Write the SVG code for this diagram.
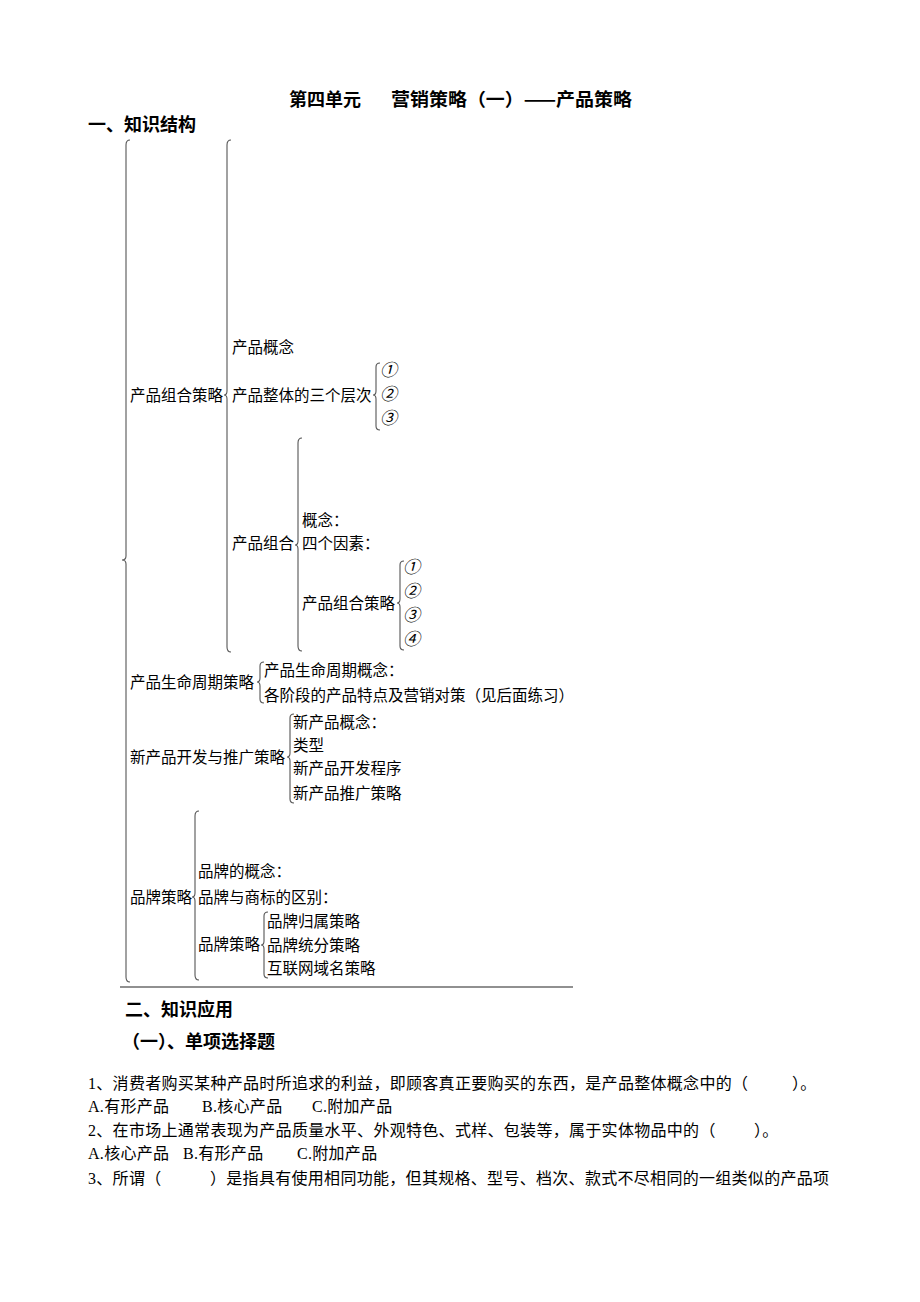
<svg xmlns="http://www.w3.org/2000/svg" width="920" height="1302" viewBox="0 0 920 1302">
<style>
.h{font-family:"Noto Sans CJK SC","Noto Sans",sans-serif;font-weight:bold;font-size:18px;fill:#000}
.t{font-family:"Noto Sans CJK SC","Noto Sans",sans-serif;font-size:15.5px;fill:#000}
.c{font-family:"Noto Sans CJK SC","Noto Sans",sans-serif;font-size:17px;font-style:italic;fill:#000}
.q{font-family:"Liberation Serif","Noto Sans CJK SC",serif;font-size:16px;letter-spacing:0.3px;fill:#000}
.br{fill:none;stroke:#555;stroke-width:1.1}
</style>
<rect width="920" height="1302" fill="#fff"/>
<g id="title">
<text class="h" x="289" y="106">第四单元</text>
<text class="h" x="391" y="106" textLength="241" lengthAdjust="spacingAndGlyphs">营销策略（一）——产品策略</text>
</g>
<g id="heading1"><text class="h" x="88" y="131">一、知识结构</text></g>
<g id="connectors">
<path class="br" d="M130,140 Q126,140 126,145 L126,556 Q126,560 122,560 Q126,560 126,564 L126,977 Q126,982 130,982"/>
<path class="br" d="M231,140 Q227,140 227,145 L227,391 Q227,395 224,395 Q227,395 227,399 L227,647 Q227,652 231,652"/>
<path class="br" d="M380,363 Q376,363 376,367 L376,391 Q376,395 373,395 Q376,395 376,399 L376,426 Q376,430 380,430"/>
<path class="br" d="M302,438 Q298,438 298,443 L298,541 Q298,545 295,545 Q298,545 298,549 L298,646 Q298,651 302,651"/>
<path class="br" d="M404,561 Q400,561 400,565 L400,599 Q400,603 397,603 Q400,603 400,607 L400,646 Q400,650 404,650"/>
<path class="br" d="M264,662 Q260,662 260,666 L260,678 Q260,682 257,682 Q260,682 260,686 L260,699 Q260,703 264,703"/>
<path class="br" d="M294,714 Q290,714 290,718 L290,753 Q290,757 287,757 Q290,757 290,761 L290,799 Q290,803 294,803"/>
<path class="br" d="M199,811 Q195,811 195,816 L195,893 Q195,897 192,897 Q195,897 195,901 L195,975 Q195,980 199,980"/>
<path class="br" d="M268,912 Q264,912 264,916 L264,941 Q264,945 261,945 Q264,945 264,949 L264,974 Q264,978 268,978"/>
<line x1="120" y1="987" x2="573" y2="987" stroke="#222" stroke-width="1.2"/>
</g>
<g id="n-product-mix-strategy"><text class="t" x="130" y="401">产品组合策略</text></g>
<g id="n-product-concept"><text class="t" x="232" y="353">产品概念</text></g>
<g id="n-three-levels"><text class="t" x="232" y="401">产品整体的三个层次</text></g>
<g id="n-levels">
<text class="c" x="380" y="376">①</text>
<text class="c" x="380" y="400">②</text>
<text class="c" x="380" y="424">③</text>
</g>
<g id="n-product-mix"><text class="t" x="232" y="549">产品组合</text></g>
<g id="n-mix-concept"><text class="t" x="302" y="526">概念：</text></g>
<g id="n-four-factors"><text class="t" x="302" y="549">四个因素：</text></g>
<g id="n-mix-strategy"><text class="t" x="302" y="609">产品组合策略</text></g>
<g id="n-mix-items">
<text class="c" x="403" y="573">①</text>
<text class="c" x="403" y="597">②</text>
<text class="c" x="403" y="621">③</text>
<text class="c" x="403" y="645">④</text>
</g>
<g id="n-plc-strategy"><text class="t" x="130" y="688">产品生命周期策略</text></g>
<g id="n-plc-concept"><text class="t" x="264" y="676">产品生命周期概念：</text></g>
<g id="n-plc-stages"><text class="t" x="264" y="701">各阶段的产品特点及营销对策（见后面练习）</text></g>
<g id="n-new-product"><text class="t" x="130" y="763">新产品开发与推广策略</text></g>
<g id="n-np-concept"><text class="t" x="293" y="728">新产品概念：</text></g>
<g id="n-np-type"><text class="t" x="293" y="751">类型</text></g>
<g id="n-np-process"><text class="t" x="293" y="774">新产品开发程序</text></g>
<g id="n-np-promo"><text class="t" x="293" y="799">新产品推广策略</text></g>
<g id="n-brand-strategy"><text class="t" x="130" y="903">品牌策略</text></g>
<g id="n-brand-concept"><text class="t" x="198" y="877">品牌的概念：</text></g>
<g id="n-brand-vs-tm"><text class="t" x="198" y="903">品牌与商标的区别：</text></g>
<g id="n-brand-strategy-inner"><text class="t" x="198" y="950">品牌策略</text></g>
<g id="n-brand-own"><text class="t" x="267" y="927">品牌归属策略</text></g>
<g id="n-brand-split"><text class="t" x="267" y="951">品牌统分策略</text></g>
<g id="n-brand-domain"><text class="t" x="267" y="974">互联网域名策略</text></g>
<g id="heading2"><text class="h" x="125" y="1016">二、知识应用</text></g>
<g id="heading3"><text class="h" x="122" y="1048">（一）、单项选择题</text></g>
<g id="questions">
<text class="q" x="88" y="1089">1、消费者购买某种产品时所追求的利益，即顾客真正要购买的东西，是产品整体概念中的（</text>
<text class="q" x="792" y="1089">）。</text>
<text class="q" x="88" y="1112">A.有形产品</text>
<text class="q" x="202" y="1112">B.核心产品</text>
<text class="q" x="312" y="1112">C.附加产品</text>
<text class="q" x="88" y="1136">2、在市场上通常表现为产品质量水平、外观特色、式样、包装等，属于实体物品中的（</text>
<text class="q" x="754" y="1136">）。</text>
<text class="q" x="88" y="1159">A.核心产品</text>
<text class="q" x="183" y="1159">B.有形产品</text>
<text class="q" x="297" y="1159">C.附加产品</text>
<text class="q" x="88" y="1184">3、所谓（</text>
<text class="q" x="210" y="1184">）是指具有使用相同功能，但其规格、型号、档次、款式不尽相同的一组类似的产品项</text>
</g>
</svg>
